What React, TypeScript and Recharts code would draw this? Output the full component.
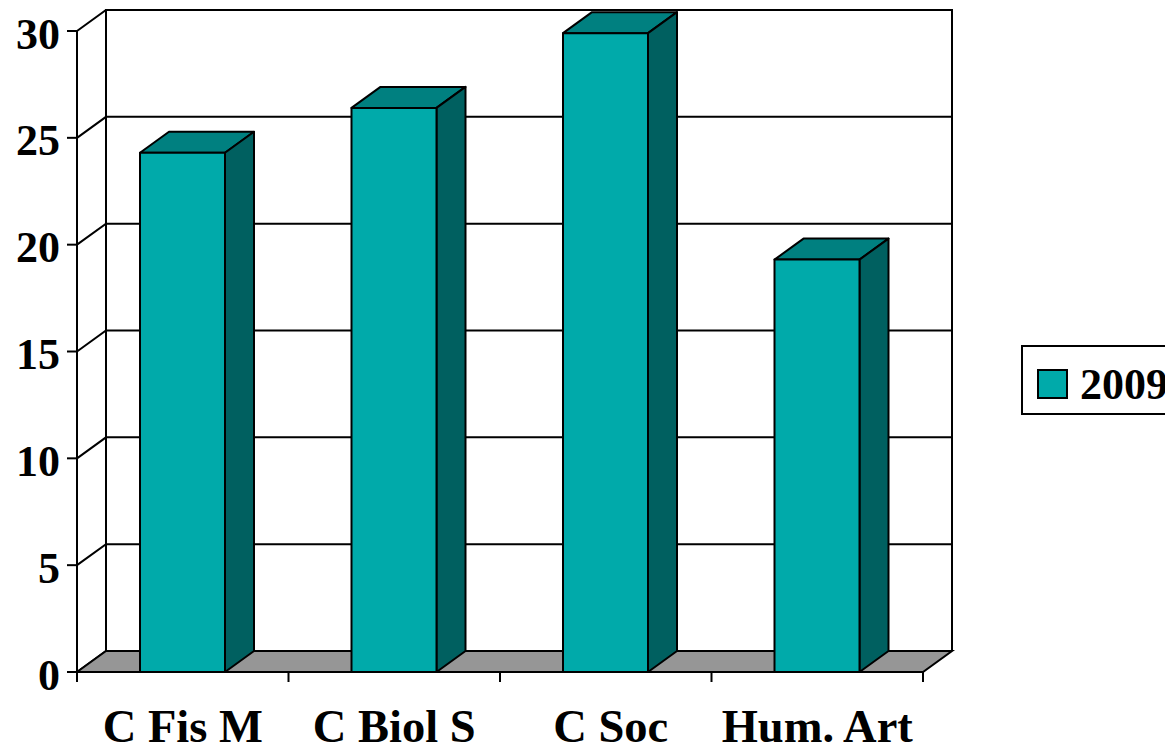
import { BarChart, Bar, XAxis, YAxis, CartesianGrid, Legend, ReferenceArea } from "recharts";

const categories = ["C Fis M", "C Biol S", "C Soc", "Hum. Art"];
const values2009 = [24.3, 26.4, 29.9, 19.3];
const yTicks = [0, 5, 10, 15, 20, 25, 30];

const data = categories.map((name, i) => ({ name, value: values2009[i] }));

const FONT = '"Liberation Serif", serif';
const DX = 29;
const DY = -21;
const BAND = 211.5;
// the "C Soc" label sits a little right of its band centre in the original
const labelShift = [0, 0, 5, 0];

function Bar3D({ x, y, width, height }: any) {
  return (
    <g stroke="#000" strokeWidth={2} strokeLinejoin="round">
      <polygon
        points={`${x},${y} ${x + DX},${y + DY} ${x + width + DX},${y + DY} ${x + width},${y}`}
        fill="#008080"
      />
      <polygon
        points={`${x + width},${y} ${x + width + DX},${y + DY} ${x + width + DX},${y + height + DY} ${x + width},${y + height}`}
        fill="#006060"
      />
      <rect x={x} y={y} width={width} height={height} fill="#00AAAA" />
    </g>
  );
}

function Walls({ x, y, width, height }: any) {
  const bottom = y + height;
  return (
    <g stroke="#000" strokeWidth={2}>
      <polygon
        points={`${x},${bottom} ${x + DX},${bottom + DY} ${x + width + DX},${bottom + DY} ${x + width},${bottom}`}
        fill="#969696"
      />
      <polyline
        points={`${x + DX},${bottom + DY} ${x + DX},${y + DY} ${x + width + DX},${y + DY} ${x + width + DX},${bottom + DY}`}
        fill="none"
      />
    </g>
  );
}

function gridLine({ x1, y1, x2, y2, key }: any) {
  return (
    <polyline
      key={key}
      points={`${x1},${y1} ${x1 + DX},${y1 + DY} ${x2 + DX},${y2 + DY}`}
      fill="none"
      stroke="#000"
      strokeWidth={2}
    />
  );
}

function CategoryTick({ x, y, payload, index }: any) {
  return (
    <g>
      <line x1={x - BAND / 2} y1={y - 8} x2={x - BAND / 2} y2={y + 2} stroke="#000" strokeWidth={2} />
      {index === categories.length - 1 && (
        <line x1={x + BAND / 2} y1={y - 8} x2={x + BAND / 2} y2={y + 2} stroke="#000" strokeWidth={2} />
      )}
      <text
        x={x + labelShift[index]}
        y={y + 62}
        textAnchor="middle"
        fontFamily={FONT}
        fontWeight="bold"
        fontSize={46.5}
        fill="#000"
      >
        {payload.value}
      </text>
    </g>
  );
}

function LegendBox() {
  return (
    <div
      style={{
        boxSizing: "border-box",
        width: 200,
        height: 70,
        border: "2px solid #000",
        background: "#fff",
        position: "relative",
      }}
    >
      <div
        style={{
          position: "absolute",
          left: 14,
          top: 22,
          width: 31,
          height: 30,
          boxSizing: "border-box",
          border: "2px solid #000",
          background: "#00AAAA",
        }}
      />
      <span
        style={{
          position: "absolute",
          left: 57,
          top: 13,
          fontFamily: FONT,
          fontWeight: "bold",
          fontSize: 44,
          lineHeight: "50px",
          color: "#000",
        }}
      >
        2009
      </span>
    </div>
  );
}

export default function App() {
  return (
    <div style={{ position: "absolute", left: 0, top: 0, width: 1165, height: 747, overflow: "hidden", background: "#fff" }}>
      <BarChart width={1165} height={747} data={data} margin={{ top: 31, right: 242, bottom: 0, left: 0 }}>
        <ReferenceArea y1={0} y2={30} shape={Walls} />
        <CartesianGrid vertical={false} horizontal={gridLine} />
        <XAxis
          dataKey="name"
          height={75}
          axisLine={{ stroke: "#000", strokeWidth: 2 }}
          tickLine={false}
          tick={CategoryTick}
          interval={0}
        />
        <YAxis
          width={77}
          domain={[0, 30]}
          ticks={yTicks}
          interval={0}
          tickSize={10}
          tickMargin={7}
          axisLine={{ stroke: "#000", strokeWidth: 2 }}
          tickLine={{ stroke: "#000", strokeWidth: 2 }}
          tick={{ fontFamily: FONT, fontWeight: "bold", fontSize: 44, fill: "#000", dy: 2 }}
        />
        <Bar dataKey="value" name="2009" barSize={85} shape={Bar3D} isAnimationActive={false} />
        <Legend
          layout="horizontal"
          verticalAlign="middle"
          content={LegendBox}
          wrapperStyle={{ left: 1021, top: 345, width: 200, height: 70 }}
        />
      </BarChart>
    </div>
  );
}
